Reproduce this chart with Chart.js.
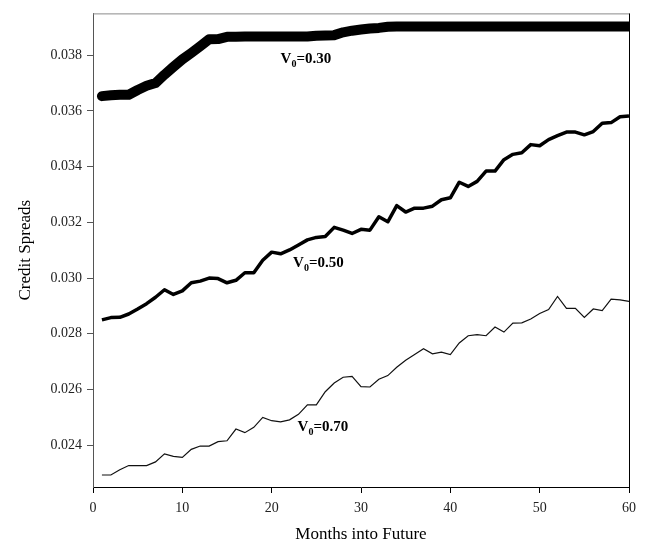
<!DOCTYPE html>
<html>
<head>
<meta charset="utf-8">
<script src="https://cdn.jsdelivr.net/npm/chart.js@4/dist/chart.umd.min.js"></script>
<style>
  html, body { margin: 0; padding: 0; background: #fff; }
  #wrap { width: 647px; height: 548px; }
</style>
</head>
<body>
<div id="wrap"><canvas id="chart" width="647" height="548"></canvas></div>
<script>
// ── Data ──
const months = Array.from({ length: 60 }, (_, i) => i + 1);

const v030 = [
  0.03653, 0.03656, 0.03658, 0.03658, 0.03675, 0.03690, 0.03700, 0.03730, 0.03758, 0.03785,
  0.03808, 0.03832, 0.03857, 0.03858, 0.03866, 0.03866, 0.03867, 0.03867, 0.03867, 0.03867,
  0.03867, 0.03867, 0.03867, 0.03867, 0.03870, 0.03871, 0.03872, 0.03882, 0.03888, 0.03892,
  0.03896, 0.03898, 0.03902, 0.03903, 0.03903, 0.03903, 0.03903, 0.03903, 0.03903, 0.03903,
  0.03903, 0.03903, 0.03903, 0.03903, 0.03903, 0.03903, 0.03903, 0.03903, 0.03903, 0.03903,
  0.03903, 0.03903, 0.03903, 0.03903, 0.03903, 0.03903, 0.03903, 0.03903, 0.03903, 0.03903
];

const v050 = [
  0.02850, 0.02858, 0.02859, 0.02871, 0.02889, 0.02908, 0.02931, 0.02958, 0.02941, 0.02954,
  0.02983, 0.02989, 0.03000, 0.02998, 0.02983, 0.02992, 0.03019, 0.03019, 0.03064, 0.03093,
  0.03087, 0.03101, 0.03119, 0.03137, 0.03146, 0.03149, 0.03182, 0.03172, 0.03160, 0.03175,
  0.03172, 0.03220, 0.03202, 0.03260, 0.03237, 0.03251, 0.03251, 0.03258, 0.03281, 0.03288,
  0.03344, 0.03329, 0.03347, 0.03384, 0.03384, 0.03425, 0.03444, 0.03450, 0.03479, 0.03475,
  0.03497, 0.03511, 0.03524, 0.03524, 0.03514, 0.03526, 0.03556, 0.03558, 0.03579, 0.03582
];

const v070 = [
  0.02293, 0.02293, 0.02312, 0.02327, 0.02327, 0.02327, 0.02340, 0.02369, 0.02360, 0.02356,
  0.02385, 0.02397, 0.02397, 0.02413, 0.02416, 0.02458, 0.02445, 0.02464, 0.02500, 0.02488,
  0.02484, 0.02491, 0.02511, 0.02545, 0.02545, 0.02592, 0.02623, 0.02644, 0.02647, 0.02610,
  0.02609, 0.02637, 0.02650, 0.02680, 0.02705, 0.02726, 0.02746, 0.02728, 0.02734, 0.02725,
  0.02767, 0.02793, 0.02797, 0.02793, 0.02824, 0.02806, 0.02838, 0.02839, 0.02853, 0.02873,
  0.02887, 0.02934, 0.02891, 0.02891, 0.02859, 0.02889, 0.02883, 0.02924, 0.02922, 0.02916
];

const yTicks = [0.024, 0.026, 0.028, 0.030, 0.032, 0.034, 0.036, 0.038];
const xTicks = [0, 10, 20, 30, 40, 50, 60];

// series labels: value text and anchor in data units
const labelNames  = ["0.30", "0.50", "0.70"];
const labelMonths = [21.0, 22.4, 22.9];
const labelValues = [0.0379, 0.03058, 0.0247];

const SERIF = "'Liberation Serif', 'Times New Roman', serif";

const pts = vals => months.map((m, i) => ({ x: m, y: vals[i] }));

// ── Plugins ──
const frame = {
  id: "frame",
  afterDatasetsDraw(chart) {
    const { ctx, chartArea: a } = chart;
    ctx.save();
    ctx.lineWidth = 1;
    ctx.strokeStyle = "#8a8a8a";
    ctx.beginPath();
    ctx.moveTo(a.left, a.top + 0.5);
    ctx.lineTo(a.right, a.top + 0.5);
    ctx.stroke();
    ctx.strokeStyle = "#000";
    ctx.beginPath();
    ctx.moveTo(a.right + 0.5, a.top);
    ctx.lineTo(a.right + 0.5, a.bottom);
    ctx.stroke();
    ctx.restore();
  }
};

const seriesLabels = {
  id: "seriesLabels",
  afterDatasetsDraw(chart) {
    const { ctx, scales } = chart;
    ctx.save();
    ctx.fillStyle = "#000";
    ctx.textBaseline = "alphabetic";
    labelNames.forEach((name, i) => {
      let x = scales.x.getPixelForValue(labelMonths[i]);
      const y = scales.y.getPixelForValue(labelValues[i]) + 5;
      ctx.font = "bold 15px " + SERIF;
      ctx.fillText("V", x, y);
      x += ctx.measureText("V").width;
      ctx.font = "bold 10px " + SERIF;
      ctx.fillText("0", x, y + 4);
      x += ctx.measureText("0").width;
      ctx.font = "bold 15px " + SERIF;
      ctx.fillText("=" + name, x, y);
    });
    ctx.restore();
  }
};

// ── Chart ──
new Chart(document.getElementById("chart"), {
  type: "line",
  data: {
    datasets: [
      { label: "V0=0.30", data: pts(v030), borderColor: "#000", borderWidth: 10,
        borderCapStyle: "round", borderJoinStyle: "round", pointRadius: 0, tension: 0 },
      { label: "V0=0.50", data: pts(v050), borderColor: "#000", borderWidth: 3.5,
        borderJoinStyle: "round", pointRadius: 0, tension: 0 },
      { label: "V0=0.70", data: pts(v070), borderColor: "#111", borderWidth: 1.2,
        pointRadius: 0, tension: 0 }
    ]
  },
  options: {
    responsive: false,
    animation: false,
    layout: { padding: { top: 7, right: 18, left: 0, bottom: 0 } },
    plugins: { legend: { display: false }, tooltip: { enabled: false } },
    scales: {
      x: {
        type: "linear",
        min: 0, max: 60,
        afterBuildTicks: s => { s.ticks = xTicks.map(v => ({ value: v })); },
        afterFit: s => { s.height = 61; },
        border: { color: "#000", width: 1 },
        grid: { drawOnChartArea: false, drawTicks: true, tickLength: 6, color: "#000" },
        ticks: { color: "#222", padding: 7, font: { family: SERIF, size: 14 }, maxRotation: 0 },
        title: { display: true, text: "Months into Future", color: "#000",
                 font: { family: SERIF, size: 17 }, padding: { bottom: 3 } }
      },
      y: {
        min: 0.0225, max: 0.0395,
        afterBuildTicks: s => { s.ticks = yTicks.map(v => ({ value: v })); },
        afterFit: s => { s.width = 93; },
        border: { color: "#555", width: 1 },
        grid: { drawOnChartArea: false, drawTicks: true, tickLength: 6, color: "#555" },
        ticks: { color: "#222", padding: 5, font: { family: SERIF, size: 14 },
                 callback: v => v.toFixed(3) },
        title: { display: true, text: "Credit Spreads", color: "#000",
                 font: { family: SERIF, size: 17 }, padding: { top: 15 } }
      }
    }
  },
  plugins: [frame, seriesLabels]
});
</script>
</body>
</html>
